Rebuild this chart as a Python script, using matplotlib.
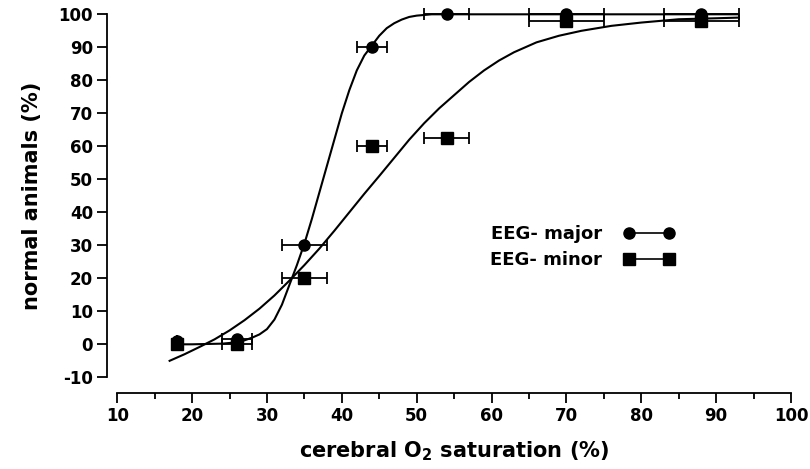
import matplotlib
matplotlib.use("Agg")
import matplotlib.pyplot as plt
from matplotlib.lines import Line2D

# measured points (mean +/- SD of O2 saturation)
o2_sat = [18, 26, 35, 44, 54, 70, 88]
o2_err = [0, 2, 3, 2, 3, 5, 5]
major_pct = [1, 1.5, 30, 90, 100, 100, 100]
minor_pct = [0, 0, 20, 60, 62.5, 98, 98]

# fitted curves
major_fit_x = [18, 20, 22, 24, 25, 26, 27, 28, 29, 30, 31, 32, 33, 34, 35, 36, 37, 38,
               39, 40, 41, 42, 43, 44, 45, 46, 47, 48, 49, 50, 52, 55, 60, 70, 80, 93]
major_fit_y = [0, 0, 0.1, 0.2, 0.4, 0.7, 1.2, 2.0, 3.0, 4.6, 7.5, 12, 18, 24, 30.5, 38, 46, 54,
               62, 70, 77, 83, 87.5, 90.5, 93.5, 95.8, 97.3, 98.4, 99.2, 99.6, 100, 100, 100, 100, 100, 100]
minor_fit_x = [17, 19, 21, 23, 25, 27, 29, 31, 33, 35, 37, 39, 41, 43, 45, 47, 49, 51,
               53, 55, 57, 59, 61, 63, 66, 69, 72, 76, 80, 85, 90, 93]
minor_fit_y = [-5, -3, -0.8, 1.5, 4.2, 7.3, 10.8, 14.8, 19.3, 24, 29, 34.4, 40, 45.6, 51, 56.5, 62, 67,
               71.5, 75.5, 79.5, 83, 86, 88.5, 91.5, 93.5, 95, 96.5, 97.5, 98.5, 98.8, 99]

x_ticks = list(range(10, 101, 10))
x_minor = list(range(15, 100, 10))
y_ticks = list(range(-10, 101, 10))

plt.rcParams['font.family'] = ['DejaVu Sans']
plt.rcParams['font.weight'] = 'bold'
plt.rcParams['mathtext.fontset'] = 'dejavusans'
plt.rcParams['axes.unicode_minus'] = False

fig = plt.figure(figsize=(8.1, 4.69), dpi=100)
ax = fig.add_axes([0.1447, 0.1955, 0.8319, 0.774])

ax.plot(major_fit_x, major_fit_y, color='black', lw=1.5)
ax.plot(minor_fit_x, minor_fit_y, color='black', lw=1.5)

ax.errorbar(o2_sat, minor_pct, xerr=o2_err, fmt='s', ms=8.5, color='black',
            elinewidth=1.3, capsize=4.5, capthick=1.3)
ax.errorbar(o2_sat, major_pct, xerr=o2_err, fmt='o', ms=8, color='black',
            elinewidth=1.3, capsize=4.5, capthick=1.3)

for a in ax.get_children():
    a.set_clip_on(False)

ax.set_xlim(10, 100)
ax.set_ylim(-10, 100)
ax.set_xticks(x_ticks)
ax.set_xticks(x_minor, minor=True)
ax.set_yticks(y_ticks)

for s in ['top', 'right']:
    ax.spines[s].set_visible(False)
ax.spines['left'].set_position(('outward', 7))
ax.spines['bottom'].set_position(('outward', 11))
ax.spines['left'].set_linewidth(1.3)
ax.spines['bottom'].set_linewidth(1.3)

ax.tick_params(axis='both', which='major', direction='out', length=7, width=1.3, labelsize=12)
ax.tick_params(axis='x', which='minor', direction='out', length=4, width=1.3)

ax.set_xlabel(r'cerebral O$_\mathbf{2}$ saturation (%)', fontsize=15, fontweight='bold', labelpad=10)
ax.set_ylabel('normal animals (%)', fontsize=15, fontweight='bold', labelpad=12)

handles = [Line2D([], [], color='black', marker='o', ms=8, lw=1.2),
           Line2D([], [], color='black', marker='s', ms=8.5, lw=1.2)]
ax.legend(handles, ['EEG- major', 'EEG- minor'], numpoints=2, markerfirst=False,
          frameon=False, loc='center left', bbox_to_anchor=(0.553, 0.359),
          borderpad=0, borderaxespad=0, handlelength=2.8, handletextpad=1.2,
          labelspacing=0.45, prop={'size': 13, 'weight': 'bold'})

fig.savefig('out.png', dpi=100)
